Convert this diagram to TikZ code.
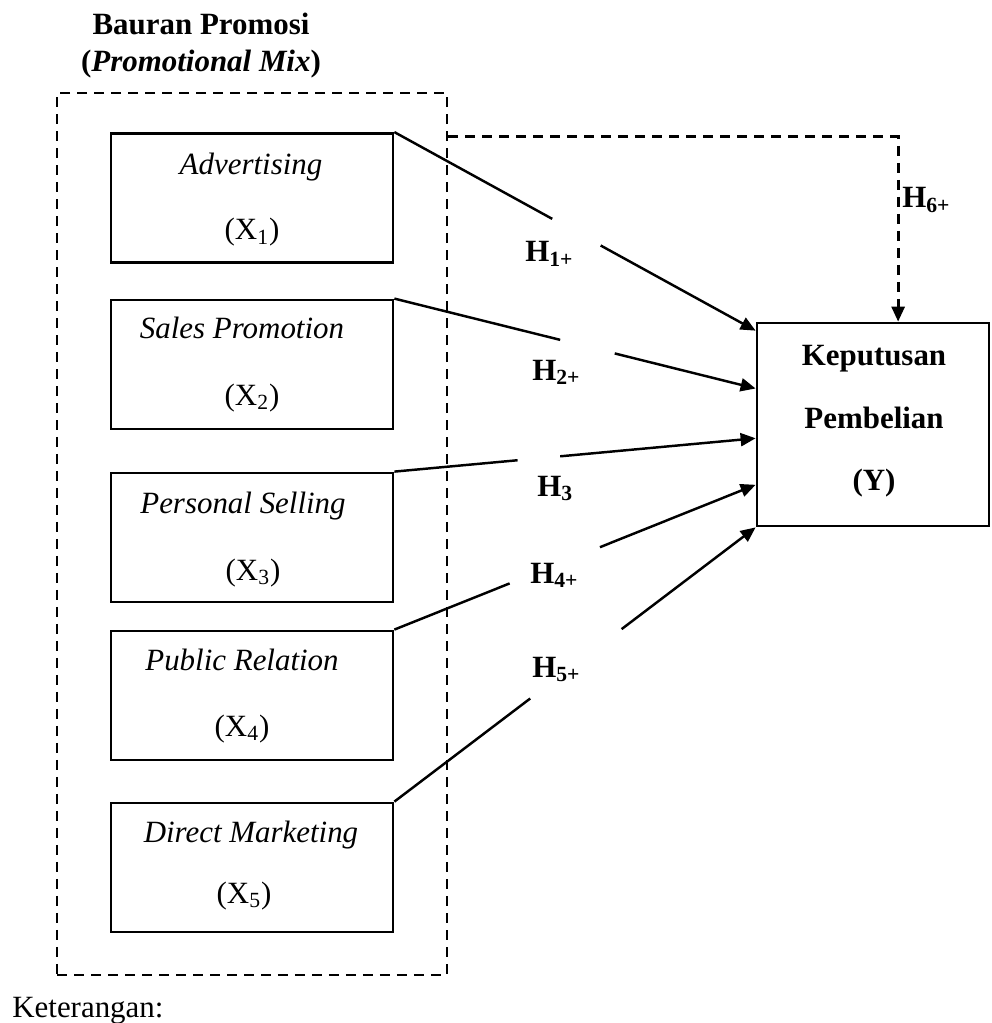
\documentclass[tikz,border=0pt]{standalone}
\usepackage{fontspec}
\setmainfont{Liberation Serif}
\usetikzlibrary{arrows.meta,calc}
\begin{document}
\begin{tikzpicture}[x=0.02cm,y=-0.02cm,
  every node/.style={font=\fontsize{17.6pt}{21pt}\selectfont},
  varbox/.style={draw,line width=1.6pt,minimum width=5.64cm,minimum height=2.58cm,inner sep=0pt},
  ybox/.style={draw,line width=1.6pt,minimum width=4.64cm,minimum height=4.06cm,inner sep=0pt},
  frame/.style={draw,line width=1.6pt,dash pattern=on 0.2cm off 0.14cm,minimum width=7.8cm,minimum height=17.64cm,inner sep=0pt},
  link/.style={line width=1.4pt},
  arr/.style={line width=1.4pt,-{Triangle[length=0.3cm,width=0.26cm]}},
  dlink/.style={line width=1.6pt,dash pattern=on 0.2cm off 0.14cm,-{Triangle[length=0.3cm,width=0.26cm]}},
  txt/.style={anchor=base,inner sep=0pt},
  btxt/.style={anchor=base,inner sep=0pt,font=\fontsize{17.6pt}{21pt}\selectfont\bfseries},
  hlab/.style={anchor=base west,inner sep=0pt,font=\fontsize{17.6pt}{21pt}\selectfont\bfseries}
]
\useasboundingbox (0,0) rectangle (991,1023);

% frame and boxes
\node[frame] (mix) at (252,534) {};
\node[varbox] (x1) at (252,198) {};
\node[varbox] (x2) at (252,364.5) {};
\node[varbox] (x3) at (252,537.5) {};
\node[varbox] (x4) at (252,695.5) {};
\node[varbox] (x5) at (252,867.5) {};
\node[ybox] (y) at (873,424.5) {};

% texts
\node[btxt] (ttl1) at (201,35) {Bauran Promosi};
\node[btxt] (ttl2) at (201,72) {(\textit{Promotional Mix})};

\node[txt] (t1a) at (251,175) {\itshape Advertising};
\node[txt] (t1b) at (252,240) {(X\textsubscript{1})};
\node[txt] (t2a) at (242,338) {\itshape Sales Promotion};
\node[txt] (t2b) at (252,405) {(X\textsubscript{2})};
\node[txt] (t3a) at (243,513) {\itshape Personal Selling};
\node[txt] (t3b) at (253,580) {(X\textsubscript{3})};
\node[txt] (t4a) at (242,670) {\itshape Public Relation};
\node[txt] (t4b) at (242,736) {(X\textsubscript{4})};
\node[txt] (t5a) at (251,842) {\itshape Direct Marketing};
\node[txt] (t5b) at (244,903) {(X\textsubscript{5})};

\node[btxt] (ya) at (874,365) {Keputusan};
\node[btxt] (yb) at (874,428) {Pembelian};
\node[btxt] (yc) at (874,490) {(Y)};

\node[anchor=base west,inner sep=0pt] (ket) at (12,1017) {Keterangan:};

% arrow end points on Y
\coordinate (e1) at ($(y.north west)!0.044!(y.south west)$);
\coordinate (e2) at ($(y.north west)!0.325!(y.south west)$);
\coordinate (e3) at ($(y.north west)!0.567!(y.south west)$);
\coordinate (e4) at ($(y.north west)!0.793!(y.south west)$);
\coordinate (e5) at (y.south west);

% gaps
\coordinate (g1a) at ($(x1.north east)!0.437!(e1)$);
\coordinate (g1b) at ($(x1.north east)!0.571!(e1)$);
\coordinate (g2a) at ($(x2.north east)!0.459!(e2)$);
\coordinate (g2b) at ($(x2.north east)!0.610!(e2)$);
\coordinate (g3a) at ($(x3.north east)!0.341!(e3)$);
\coordinate (g3b) at ($(x3.north east)!0.459!(e3)$);
\coordinate (g4a) at ($(x4.north east)!0.319!(e4)$);
\coordinate (g4b) at ($(x4.north east)!0.569!(e4)$);
\coordinate (g5a) at ($(x5.north east)!0.376!(e5)$);
\coordinate (g5b) at ($(x5.north east)!0.629!(e5)$);

\draw[link] (x1.north east) -- (g1a);
\draw[arr] (g1b) -- (e1);
\draw[link] (x2.north east) -- (g2a);
\draw[arr] (g2b) -- (e2);
\draw[link] (x3.north east) -- (g3a);
\draw[arr] (g3b) -- (e3);
\draw[link] (x4.north east) -- (g4a);
\draw[arr] (g4b) -- (e4);
\draw[link] (x5.north east) -- (g5a);
\draw[arr] (g5b) -- (e5);

% dashed H6
\coordinate (s6) at ($(mix.north east)!0.051!(mix.south east)$);
\coordinate (e6) at ($(y.north west)!0.607!(y.north east)$);
\draw[dlink] (s6) -| (e6);

% labels
\node[hlab] (h1) at (525,262) {H\textsubscript{1+}};
\node[hlab] (h2) at (532,380) {H\textsubscript{2+}};
\node[hlab] (h3) at (537,496) {H\textsubscript{3}};
\node[hlab] (h4) at (530,583) {H\textsubscript{4+}};
\node[hlab] (h5) at (532,677) {H\textsubscript{5+}};
\node[hlab] (h6) at (902,208) {H\textsubscript{6+}};
\end{tikzpicture}
\end{document}
